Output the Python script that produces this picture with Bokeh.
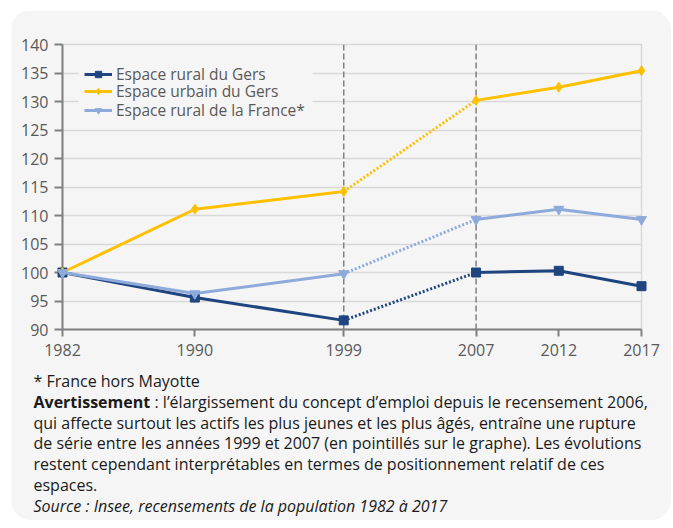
from bokeh.plotting import figure
from bokeh.models import Range1d, FixedTicker, Span, Legend, LegendItem, BoxAnnotation
from bokeh.core.properties import value
from bokeh.embed import file_html
from bokeh.resources import INLINE

# ---------------- data ----------------
years = [1982, 1990, 1999, 2007, 2012, 2017]
rural_gers = [100.0, 95.6, 91.6, 100.0, 100.3, 97.6]
urbain_gers = [100.0, 111.1, 114.2, 130.2, 132.5, 135.4]
rural_france = [100.0, 96.3, 99.8, 109.3, 111.1, 109.3]
series_names = ["Espace rural du Gers", "Espace urbain du Gers", "Espace rural de la France*"]
break_years = [1999, 2007]
y_ticks = [90, 95, 100, 105, 110, 115, 120, 125, 130, 135, 140]

note_star = "* France hors Mayotte"
note_bold = "Avertissement"
note_lines = [
    ": l\u2019\u00e9largissement du concept d\u2019emploi depuis le recensement 2006,",
    "qui affecte surtout les actifs les plus jeunes et les plus \u00e2g\u00e9s, entra\u00eene une rupture",
    "de s\u00e9rie entre les ann\u00e9es 1999 et 2007 (en pointill\u00e9s sur le graphe). Les \u00e9volutions",
    "restent cependant interpr\u00e9tables en termes de positionnement relatif de ces",
    "espaces.",
]
note_source = "Source : Insee, recensements de la population 1982 \u00e0 2017"

# ---------------- styles ----------------
FONT = "Open Sans"
PANEL = "#f5f5f5"
colors = ["#1f4580", "#ffc000", "#8eaadb"]
markers = ["square", "diamond", "inverted_triangle"]
msizes = [9, 10, 10]

W, H = 660, 510
OX, OY = 11, 10                            # figure offset on the page
FL, FR, FT, FB = 51, 630, 34, 319          # frame edges (figure px)

p = figure(width=W, height=H, output_backend="svg", toolbar_location=None,
           x_range=Range1d(years[0], years[-1]), y_range=Range1d(y_ticks[0], y_ticks[-1]),
           min_border_left=FL, min_border_right=W - FR,
           min_border_top=FT, min_border_bottom=H - FB,
           background_fill_color=PANEL, border_fill_color=PANEL,
           outline_line_color="#d9d9d9", outline_line_width=1.5)
p.styles = {"margin-left": f"{OX}px", "margin-top": f"{OY}px",
            "border-radius": "20px", "overflow": "hidden"}


def xd(page_x):
    """page pixel -> data x"""
    return years[0] + (page_x - OX - FL) * (years[-1] - years[0]) / (FR - FL)


def yd(page_y):
    """page pixel -> data y"""
    return y_ticks[0] - (page_y - OY - FB) * (y_ticks[-1] - y_ticks[0]) / (FB - FT)


p.xgrid.visible = False
p.ygrid.ticker = FixedTicker(ticks=y_ticks)
p.ygrid.grid_line_color = "#d9d9d9"
p.ygrid.grid_line_width = 1.5

# dashed vertical markers of the series break
for b in break_years:
    p.add_layout(Span(location=b, dimension="height", line_color="#7f7f7f",
                      line_width=1.5, line_dash="6 3"))

# axes
for ax in (p.xaxis[0], p.yaxis[0]):
    ax.axis_line_color = "#808080"
    ax.axis_line_width = 2
    ax.major_tick_line_color = "#808080"
    ax.major_tick_line_width = 2
    ax.major_tick_in = 0
    ax.minor_tick_line_color = None
    ax.major_label_text_font = FONT
    ax.major_label_text_font_size = "16px"
    ax.major_label_text_color = "#595959"

p.xaxis.ticker = FixedTicker(ticks=years)
p.xaxis.major_tick_out = 7
p.xaxis.major_label_standoff = 7

p.yaxis.ticker = FixedTicker(ticks=y_ticks)
p.yaxis.major_tick_out = 8
p.yaxis.major_label_standoff = 6

# legend background mask (hides gridlines behind the legend)
p.add_layout(BoxAnnotation(left=xd(78), right=xd(312), top=yd(62), bottom=yd(119),
                           fill_color=PANEL, fill_alpha=1.0, line_color=None))

# series
i0 = years.index(break_years[0])
i1 = years.index(break_years[1])
row_centers = [74, 91.7, 110.3]            # page px of legend rows
for k, (name, vals, col, mk, ms) in enumerate(zip(series_names,
                                                  [rural_gers, urbain_gers, rural_france],
                                                  colors, markers, msizes)):
    solid = p.multi_line(xs=[years[:i0 + 1], years[i1:]], ys=[vals[:i0 + 1], vals[i1:]],
                         line_color=col, line_width=3, level="overlay")
    p.line(years[i0:i1 + 1], vals[i0:i1 + 1], line_color=col, line_width=3,
           line_dash="2 2", level="overlay")
    sc = p.scatter(years, vals, marker=mk, size=ms, fill_color=col, line_color=col,
                   level="overlay")
    bottom_from_frame = (OY + FB) - row_centers[k] - 10.5
    lg = Legend(items=[LegendItem(label=name, renderers=[solid, sc])],
                location=(22, bottom_from_frame),
                label_text_font=FONT, label_text_font_size="15.5px",
                label_text_color="#595959",
                glyph_width=28, glyph_height=16, label_height=16, spacing=0, padding=0,
                margin=0, label_standoff=4,
                background_fill_alpha=0.0, border_line_color=None)
    p.add_layout(lg)

# ---------------- notes (text glyphs below the frame) ----------------
TX = 33
LINE0 = 380.5
STEP = 20.8
txt = dict(text_font=value(FONT), text_font_size="16px", text_color="#1a1a1a",
           text_baseline="middle", level="overlay")
p.text(x=[xd(TX)], y=[yd(LINE0)], text=[note_star], **txt)
p.text(x=[xd(TX)], y=[yd(LINE0 + STEP)], text=[note_bold], text_font_style="bold", **txt)
p.text(x=[xd(TX + 121)], y=[yd(LINE0 + STEP)], text=[note_lines[0]], **txt)
p.text(x=[xd(TX)] * 4, y=[yd(LINE0 + STEP * k) for k in range(2, 6)],
       text=note_lines[1:], **txt)
p.text(x=[xd(TX)], y=[yd(LINE0 + STEP * 6)], text=[note_source],
       text_font_style="italic", **txt)

open("out.html", "w").write(file_html(p, INLINE))
